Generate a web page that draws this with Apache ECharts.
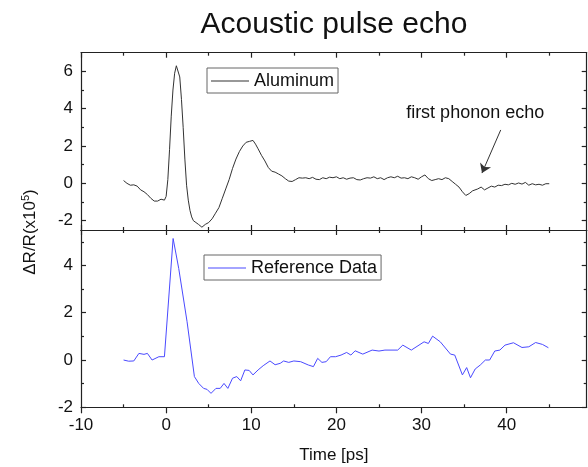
<!DOCTYPE html>
<html>
<head>
<meta charset="utf-8">
<script src="https://cdn.jsdelivr.net/npm/echarts@6/dist/echarts.min.js"></script>
<style>html,body{margin:0;padding:0;background:#fff;}#c{width:588px;height:467px;}</style>
</head>
<body>
<div id="c"></div>
<script>
// ---- data ----
const alTime = [-5.0,-4.9,-4.8,-4.6,-4.4,-4.2,-4.0,-3.8,-3.6,-3.4,-3.2,-3.0,-2.8,-2.6,-2.4,-2.2,-2.0,-1.8,-1.6,-1.4,-1.2,-1.0,-0.8,-0.6,-0.4,-0.2,0.0,0.2,0.4,0.6,0.8,1.0,1.2,1.4,1.6,1.8,2.0,2.2,2.4,2.6,2.8,3.0,3.2,3.5,3.8,4.0,4.2,4.4,4.6,5.0,5.4,5.8,6.2,6.6,7.0,7.4,7.8,8.2,8.6,9.0,9.4,9.8,10.2,10.5,10.8,11.2,11.6,12.0,12.4,12.8,13.2,13.6,14.0,14.4,14.8,15.2,15.6,16.0,16.4,16.8,17.2,17.6,18.0,18.4,18.8,19.2,19.6,20.0,20.4,20.8,21.2,21.6,22.0,22.4,22.8,23.2,23.6,24.0,24.4,24.8,25.2,25.6,26.0,26.4,26.8,27.2,27.6,28.0,28.4,28.8,29.2,29.6,30.0,30.4,30.8,31.2,31.6,32.0,32.4,32.8,33.2,33.6,34.0,34.4,34.8,35.2,35.6,36.0,36.2,36.6,37.0,37.4,37.8,38.2,38.6,39.0,39.4,39.8,40.2,40.6,41.0,41.4,41.8,42.2,42.6,43.0,43.4,43.8,44.2,44.6,45.0];
const alSignal = [0.15,0.05,0.12,0.0,0.08,-0.1,-0.02,-0.08,0.02,-0.15,-0.25,-0.35,-0.3,-0.45,-0.5,-0.6,-0.65,-0.8,-0.75,-0.95,-0.85,-0.95,-0.9,-0.85,-0.95,-0.9,-0.7,0.2,1.8,3.6,5.0,5.9,6.3,6.25,5.7,4.5,3.0,1.3,-0.1,-0.9,-1.45,-1.8,-2.0,-2.1,-2.2,-2.25,-2.35,-2.3,-2.2,-2.1,-1.9,-1.6,-1.3,-0.8,-0.3,0.2,0.8,1.3,1.7,2.0,2.2,2.25,2.3,2.1,1.85,1.5,1.2,0.85,0.65,0.6,0.5,0.4,0.25,0.12,0.1,0.2,0.3,0.28,0.3,0.25,0.32,0.22,0.2,0.3,0.25,0.33,0.3,0.35,0.25,0.3,0.22,0.28,0.3,0.2,0.18,0.25,0.3,0.28,0.35,0.25,0.3,0.2,0.3,0.35,0.3,0.38,0.28,0.3,0.25,0.35,0.3,0.22,0.35,0.45,0.25,0.15,0.2,0.25,0.2,0.3,0.25,0.1,-0.05,-0.2,-0.45,-0.65,-0.55,-0.4,-0.5,-0.3,-0.2,-0.35,-0.25,-0.15,-0.2,-0.1,-0.12,-0.05,-0.08,0.0,-0.05,0.02,-0.04,0.05,-0.1,-0.02,-0.08,-0.05,-0.1,-0.02,-0.02];
const refTime = [-5.0,-4.4,-3.8,-3.2,-2.6,-2.2,-1.65,-0.85,-0.2,0.82,1.48,2.46,3.32,3.83,4.4,4.8,5.27,5.85,6.35,6.8,7.25,7.8,8.3,8.75,9.25,9.75,10.2,10.8,11.4,12.2,12.8,13.4,13.8,14.4,15.0,15.8,16.7,17.3,17.8,18.3,18.8,19.3,19.9,20.55,21.2,21.7,22.2,23.1,24.2,25.0,25.7,27.2,27.8,28.8,30.3,30.8,31.3,32.2,33.4,33.9,34.8,35.3,35.75,36.3,36.9,37.5,38.0,38.6,39.2,39.8,40.8,41.8,42.6,43.4,44.2,44.9];
const refSignal = [0,-0.05,-0.04,0.28,0.24,0.28,0,0.14,0.14,5.14,3.87,1.62,-0.7,-0.99,-1.2,-1.24,-1.41,-1.2,-1.2,-0.99,-1.2,-0.77,-0.7,-0.88,-0.42,-0.44,-0.63,-0.42,-0.24,-0.04,-0.2,-0.14,-0.04,-0.1,-0.04,-0.07,-0.21,-0.28,0.07,-0.1,-0.07,0.14,0.14,0.21,0.32,0.21,0.39,0.25,0.42,0.38,0.42,0.42,0.63,0.42,0.77,0.7,1.01,0.77,0.25,0.21,-0.63,-0.32,-0.75,-0.38,-0.21,0,0,0.38,0.42,0.63,0.73,0.53,0.56,0.74,0.66,0.52];
const xMajor = [-10,0,10,20,30,40];
const xMinor = [-5,5,15,25,35,45];
const yTopMajor = [-2,0,2,4,6];
const yTopMinor = [-1,1,3,5];
const yBotMajor = [-2,0,2,4];
const yBotMinor = [-1,1,3,5];
const xRange = [-10, 49.4];
const yTopRange = [-2.5, 7];
const yBotRange = [-2, 5.5];
const echoArrow = [[39.3, 2.86], [37.1, 0.55]];
const echoTextAt = [36.3, 3.78];

const FONT = 'Liberation Sans, Arial, sans-serif';
const AX = '#222';

function pairs(a, b) { return a.map((v, i) => [v, b[i]]); }

function xAx(grid, pos, ticks, opts) {
  return Object.assign({
    type: 'value', gridIndex: grid, position: pos, min: xRange[0], max: xRange[1],
    axisLine: { show: true, onZero: false, lineStyle: { color: AX, width: 1.2 } },
    axisTick: { show: true, inside: true, length: 5, customValues: ticks, lineStyle: { color: AX, width: 1.2 } },
    axisLabel: { show: false },
    splitLine: { show: false }
  }, opts || {});
}
function yAx(grid, pos, range, ticks, opts) {
  return Object.assign({
    type: 'value', gridIndex: grid, position: pos, min: range[0], max: range[1],
    axisLine: { show: true, onZero: false, lineStyle: { color: AX, width: 1.2 } },
    axisTick: { show: true, inside: true, length: 5, customValues: ticks, lineStyle: { color: AX, width: 1.2 } },
    axisLabel: { show: false },
    splitLine: { show: false }
  }, opts || {});
}
const minorTick = (ticks) => ({ show: true, inside: true, length: 3, customValues: ticks, lineStyle: { color: AX, width: 1.2 } });

const tickLabel = { show: true, fontSize: 17, color: '#111', fontFamily: FONT };

const chart = echarts.init(document.getElementById('c'), null, { renderer: 'canvas' });
chart.setOption({
  animation: false,
  backgroundColor: '#fff',
  textStyle: { fontFamily: FONT },
  title: {
    text: 'Acoustic pulse echo', left: 329, top: 5, textAlign: 'center',
    textStyle: { fontSize: 30, fontWeight: 'normal', color: '#111', fontFamily: FONT }
  },
  grid: [
    { left: 81, right: 1.3, top: 52.7, height: 177.3 },
    { left: 81, right: 1.3, top: 230, height: 177.3 }
  ],
  xAxis: [
    xAx(0, 'bottom', xMajor),
    xAx(0, 'top', xMajor),
    xAx(0, 'bottom', xMinor, { axisLine: { show: false, onZero: false }, axisTick: minorTick(xMinor) }),
    xAx(0, 'top', xMinor, { axisLine: { show: false, onZero: false }, axisTick: minorTick(xMinor) }),
    xAx(1, 'bottom', xMajor, {
      axisTick: { show: true, inside: false, length: 6, customValues: xMajor, lineStyle: { color: AX, width: 1.2 } },
      axisLabel: Object.assign({ customValues: xMajor, margin: 10 }, tickLabel),
      name: 'Time [ps]', nameLocation: 'middle', nameGap: 40,
      nameTextStyle: { fontSize: 17, color: '#111', fontFamily: FONT }
    }),
    xAx(1, 'top', xMajor),
    xAx(1, 'bottom', xMinor, { axisLine: { show: false, onZero: false }, axisTick: minorTick(xMinor) }),
    xAx(1, 'top', xMinor, { axisLine: { show: false, onZero: false }, axisTick: minorTick(xMinor) })
  ],
  yAxis: [
    yAx(0, 'left', yTopRange, yTopMajor, { axisLabel: Object.assign({ customValues: yTopMajor, margin: 8 }, tickLabel) }),
    yAx(0, 'right', yTopRange, yTopMajor),
    yAx(0, 'left', yTopRange, yTopMinor, { axisLine: { show: false, onZero: false }, axisTick: minorTick(yTopMinor) }),
    yAx(0, 'right', yTopRange, yTopMinor, { axisLine: { show: false, onZero: false }, axisTick: minorTick(yTopMinor) }),
    yAx(1, 'left', yBotRange, yBotMajor, { axisLabel: Object.assign({ customValues: yBotMajor, margin: 8 }, tickLabel) }),
    yAx(1, 'right', yBotRange, yBotMajor),
    yAx(1, 'left', yBotRange, yBotMinor, { axisLine: { show: false, onZero: false }, axisTick: minorTick(yBotMinor) }),
    yAx(1, 'right', yBotRange, yBotMinor, { axisLine: { show: false, onZero: false }, axisTick: minorTick(yBotMinor) })
  ],
  legend: [
    {
      data: [{ name: 'Aluminum', icon: 'rect' }], left: 207, top: 68,
      itemWidth: 38, itemHeight: 1, padding: [4, 4, 3, 4],
      borderColor: '#666', borderWidth: 1,
      textStyle: { fontSize: 18, color: '#111', fontFamily: FONT }
    },
    {
      data: [{ name: 'Reference Data', icon: 'rect' }], left: 204, top: 255,
      itemWidth: 38, itemHeight: 1, padding: [4, 4, 3, 4],
      borderColor: '#666', borderWidth: 1,
      textStyle: { fontSize: 18, color: '#111', fontFamily: FONT }
    }
  ],
  graphic: [{
    type: 'text', x: 30, y: 232, rotation: Math.PI / 2,
    style: {
      text: '{a|ΔR/R(x10}{s|5}{a|)}', align: 'center', verticalAlign: 'middle',
      rich: {
        a: { fontSize: 17, fill: '#111', fontFamily: FONT, lineHeight: 20 },
        s: { fontSize: 11, fill: '#111', fontFamily: FONT, lineHeight: 20, verticalAlign: 'top', padding: [0, 0, 6, 0] }
      }
    }
  }],
  series: [
    {
      name: 'Aluminum', type: 'line', xAxisIndex: 0, yAxisIndex: 0,
      data: pairs(alTime, alSignal), showSymbol: false, symbol: 'none',
      lineStyle: { color: '#333', width: 1 }, itemStyle: { color: '#333' },
      markLine: {
        silent: true, symbol: ['none', 'arrow'], symbolSize: 9,
        lineStyle: { color: '#333', type: 'solid', width: 1 },
        label: { show: false },
        data: [[{ coord: echoArrow[0] }, { coord: echoArrow[1] }]]
      },
      markPoint: {
        silent: true, symbol: 'circle', symbolSize: 1,
        itemStyle: { color: 'rgba(0,0,0,0)' },
        label: { show: true, position: 'inside', formatter: 'first phonon echo', fontSize: 18, color: '#111', fontFamily: FONT },
        data: [{ coord: echoTextAt }]
      }
    },
    {
      name: 'Reference Data', type: 'line', xAxisIndex: 4, yAxisIndex: 4,
      data: pairs(refTime, refSignal), showSymbol: false, symbol: 'none',
      lineStyle: { color: '#4a4aff', width: 1 }, itemStyle: { color: '#4a4aff' }
    }
  ]
});
</script>
</body>
</html>
